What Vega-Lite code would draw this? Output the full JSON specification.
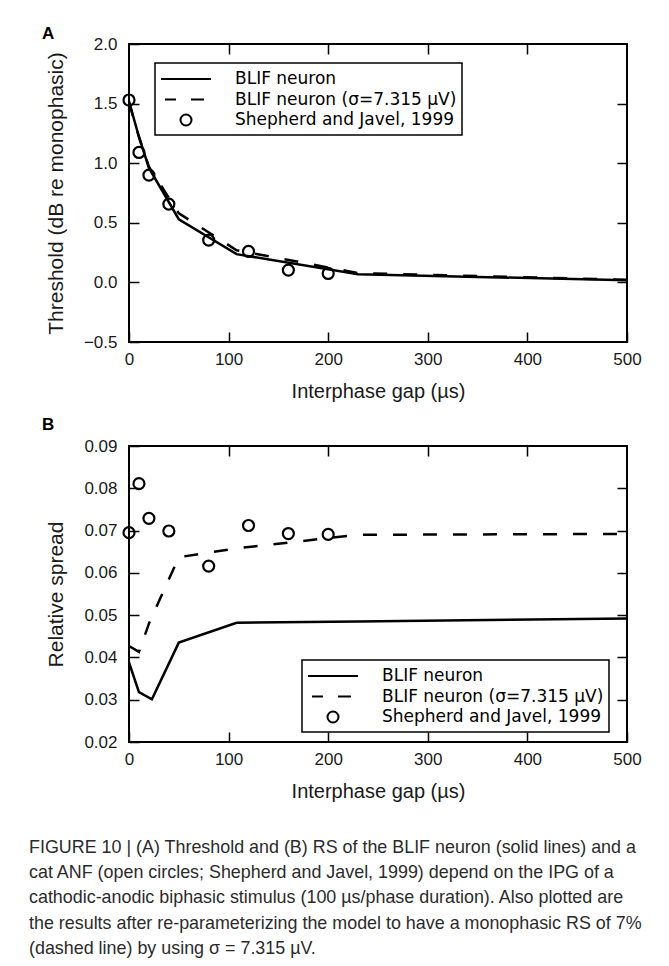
{
  "$schema": "https://vega.github.io/schema/vega-lite/v6.json",
  "padding": {"left": 29, "top": 24, "right": 5, "bottom": 5},
  "background": "white",
  "config": {
    "view": {"stroke": "black", "strokeWidth": 2},
    "axis": {
      "domain": false, "grid": false, "tickColor": "black", "tickWidth": 1.5, "tickSize": -10, "labelFlush": false,
      "labelFont": "Liberation Sans", "labelFontSize": 17, "labelColor": "#1a1a1a",
      "titleFont": "Liberation Sans", "titleFontWeight": "normal", "titleColor": "#1a1a1a", "titleFontSize": 20
    },
    "legend": {
      "orient": "none", "strokeColor": "black", "strokeWidth": 1.5, "fillColor": "white", "padding": 5,
      "cornerRadius": 0, "symbolStrokeWidth": 2, "symbolStrokeColor": "black", "symbolFillColor": "transparent",
      "labelFont": "DejaVu Sans", "labelFontSize": 17, "labelColor": "black", "labelOffset": 38, "labelLimit": 400,
      "symbolOffset": 15, "symbolSize": 400, "rowPadding": 1.5, "title": null
    }
  },
  "datasets": {
    "A": [
      {"gap": 0, "value": 1.52, "series": "BLIF neuron"},
      {"gap": 10, "value": 1.22, "series": "BLIF neuron"},
      {"gap": 20, "value": 0.96, "series": "BLIF neuron"},
      {"gap": 50, "value": 0.53, "series": "BLIF neuron"},
      {"gap": 108, "value": 0.237, "series": "BLIF neuron"},
      {"gap": 230, "value": 0.068, "series": "BLIF neuron"},
      {"gap": 500, "value": 0.018, "series": "BLIF neuron"},
      {"gap": 0, "value": 1.51, "series": "BLIF neuron (σ=7.315 µV)"},
      {"gap": 10, "value": 1.22, "series": "BLIF neuron (σ=7.315 µV)"},
      {"gap": 20, "value": 0.97, "series": "BLIF neuron (σ=7.315 µV)"},
      {"gap": 50, "value": 0.58, "series": "BLIF neuron (σ=7.315 µV)"},
      {"gap": 108, "value": 0.27, "series": "BLIF neuron (σ=7.315 µV)"},
      {"gap": 230, "value": 0.078, "series": "BLIF neuron (σ=7.315 µV)"},
      {"gap": 500, "value": 0.022, "series": "BLIF neuron (σ=7.315 µV)"},
      {"gap": 0, "value": 1.53, "series": "Shepherd and Javel, 1999"},
      {"gap": 10, "value": 1.09, "series": "Shepherd and Javel, 1999"},
      {"gap": 20, "value": 0.90, "series": "Shepherd and Javel, 1999"},
      {"gap": 40, "value": 0.657, "series": "Shepherd and Javel, 1999"},
      {"gap": 80, "value": 0.355, "series": "Shepherd and Javel, 1999"},
      {"gap": 120, "value": 0.26, "series": "Shepherd and Javel, 1999"},
      {"gap": 160, "value": 0.103, "series": "Shepherd and Javel, 1999"},
      {"gap": 200, "value": 0.075, "series": "Shepherd and Javel, 1999"}
    ],
    "B": [
      {"gap": 0, "value": 0.0388, "series": "BLIF neuron"},
      {"gap": 10, "value": 0.0318, "series": "BLIF neuron"},
      {"gap": 23, "value": 0.0301, "series": "BLIF neuron"},
      {"gap": 50, "value": 0.0435, "series": "BLIF neuron"},
      {"gap": 108, "value": 0.0482, "series": "BLIF neuron"},
      {"gap": 230, "value": 0.0485, "series": "BLIF neuron"},
      {"gap": 500, "value": 0.0492, "series": "BLIF neuron"},
      {"gap": 0, "value": 0.0427, "series": "BLIF neuron (σ=7.315 µV)"},
      {"gap": 10, "value": 0.0413, "series": "BLIF neuron (σ=7.315 µV)"},
      {"gap": 20, "value": 0.048, "series": "BLIF neuron (σ=7.315 µV)"},
      {"gap": 50, "value": 0.0637, "series": "BLIF neuron (σ=7.315 µV)"},
      {"gap": 108, "value": 0.0658, "series": "BLIF neuron (σ=7.315 µV)"},
      {"gap": 230, "value": 0.069, "series": "BLIF neuron (σ=7.315 µV)"},
      {"gap": 500, "value": 0.0692, "series": "BLIF neuron (σ=7.315 µV)"},
      {"gap": 0, "value": 0.0695, "series": "Shepherd and Javel, 1999"},
      {"gap": 10, "value": 0.0811, "series": "Shepherd and Javel, 1999"},
      {"gap": 20, "value": 0.0729, "series": "Shepherd and Javel, 1999"},
      {"gap": 40, "value": 0.0699, "series": "Shepherd and Javel, 1999"},
      {"gap": 80, "value": 0.0616, "series": "Shepherd and Javel, 1999"},
      {"gap": 120, "value": 0.0712, "series": "Shepherd and Javel, 1999"},
      {"gap": 160, "value": 0.0693, "series": "Shepherd and Javel, 1999"},
      {"gap": 200, "value": 0.0691, "series": "Shepherd and Javel, 1999"}
    ]
  },
  "title": {
    "text": [
      "FIGURE 10 | (A) Threshold and (B) RS of the BLIF neuron (solid lines) and a",
      "cat ANF (open circles; Shepherd and Javel, 1999) depend on the IPG of a",
      "cathodic-anodic biphasic stimulus (100 µs/phase duration). Also plotted are",
      "the results after re-parameterizing the model to have a monophasic RS of 7%",
      "(dashed line) by using σ = 7.315 µV."
    ],
    "orient": "bottom", "anchor": "start", "frame": "bounds", "dx": -12, "offset": 36,
    "font": "Liberation Sans", "fontSize": 17.9, "fontWeight": "normal", "color": "#2b2b2b", "lineHeight": 25.3
  },
  "spacing": 12,
  "resolve": {"scale": {"shape": "independent", "x": "independent", "y": "independent"}, "legend": {"shape": "independent"}},
  "vconcat": [
    {
      "width": 498, "height": 298,
      "title": {"text": "A", "anchor": "start", "frame": "group", "dx": -87, "offset": -8, "font": "Liberation Sans", "fontSize": 17, "fontWeight": "bold", "color": "black"},
      "data": {"name": "A"},
      "resolve": {"axis": {"x": "independent", "y": "independent"}},
      "layer": [
        {
          "transform": [{"filter": "datum.series === 'BLIF neuron'"}],
          "mark": {"type": "line", "color": "black", "strokeWidth": 2.5},
          "encoding": {
            "x": {"field": "gap", "type": "quantitative", "scale": {"domain": [0, 500], "nice": false},
                  "axis": {"orient": "bottom", "values": [0, 100, 200, 300, 400, 500], "labelPadding": 19, "title": "Interphase gap (µs)", "titleY": 49.5, "titleBaseline": "middle"}},
            "y": {"field": "value", "type": "quantitative", "scale": {"domain": [-0.5, 2.0], "nice": false, "zero": false},
                  "axis": {"orient": "left", "values": [-0.5, 0, 0.5, 1, 1.5, 2], "format": ".1f", "labelPadding": 22, "title": "Threshold (dB re monophasic)", "titleFontSize": 21, "titleX": -72.5, "titleBaseline": "middle"}}
          }
        },
        {
          "transform": [{"filter": "datum.series === 'BLIF neuron (σ=7.315 µV)'"}],
          "mark": {"type": "line", "color": "black", "strokeWidth": 2.5, "strokeDash": [14, 16]},
          "encoding": {
            "x": {"field": "gap", "type": "quantitative", "axis": {"orient": "top", "values": [100, 200, 300, 400], "labels": false, "title": null}},
            "y": {"field": "value", "type": "quantitative", "axis": {"orient": "right", "values": [0, 0.5, 1, 1.5], "labels": false, "title": null}}
          }
        },
        {
          "transform": [{"filter": "datum.series === 'Shepherd and Javel, 1999'"}],
          "mark": {"type": "point", "filled": false, "color": "black", "strokeWidth": 2.2, "size": 400, "opacity": 1},
          "encoding": {
            "x": {"field": "gap", "type": "quantitative", "axis": null},
            "y": {"field": "value", "type": "quantitative", "axis": null},
            "shape": {"field": "series", "type": "nominal",
              "scale": {"domain": ["BLIF neuron", "BLIF neuron (σ=7.315 µV)", "Shepherd and Javel, 1999"],
                        "range": ["M-2.5,0L2.5,0", "M-2.1,0L-1,0M0.5,0L1.8,0", "M-0.55,0A0.55,0.55 0 1,0 0.55,0A0.55,0.55 0 1,0 -0.55,0Z"]},
              "legend": {"legendX": 26, "legendY": 19}}
          }
        }
      ]
    },
    {
      "width": 498, "height": 296,
      "title": {"text": "B", "anchor": "start", "frame": "group", "dx": -87, "offset": 3, "font": "Liberation Sans", "fontSize": 17, "fontWeight": "bold", "color": "black"},
      "data": {"name": "B"},
      "resolve": {"axis": {"x": "independent", "y": "independent"}},
      "layer": [
        {
          "transform": [{"filter": "datum.series === 'BLIF neuron'"}],
          "mark": {"type": "line", "color": "black", "strokeWidth": 2.5},
          "encoding": {
            "x": {"field": "gap", "type": "quantitative", "scale": {"domain": [0, 500], "nice": false},
                  "axis": {"orient": "bottom", "values": [0, 100, 200, 300, 400, 500], "labelPadding": 19, "title": "Interphase gap (µs)", "titleY": 49.8, "titleBaseline": "middle"}},
            "y": {"field": "value", "type": "quantitative", "scale": {"domain": [0.02, 0.09], "nice": false, "zero": false},
                  "axis": {"orient": "left", "values": [0.02, 0.03, 0.04, 0.05, 0.06, 0.07, 0.08, 0.09], "format": ".2f", "labelPadding": 22, "title": "Relative spread", "titleFontSize": 21, "titleX": -72.5, "titleBaseline": "middle"}}
          }
        },
        {
          "transform": [{"filter": "datum.series === 'BLIF neuron (σ=7.315 µV)'"}],
          "mark": {"type": "line", "color": "black", "strokeWidth": 2.5, "strokeDash": [14, 16]},
          "encoding": {
            "x": {"field": "gap", "type": "quantitative", "axis": {"orient": "top", "values": [100, 200, 300, 400], "labels": false, "title": null}},
            "y": {"field": "value", "type": "quantitative", "axis": {"orient": "right", "values": [0.03, 0.04, 0.05, 0.06, 0.07, 0.08], "labels": false, "title": null}}
          }
        },
        {
          "transform": [{"filter": "datum.series === 'Shepherd and Javel, 1999'"}],
          "mark": {"type": "point", "filled": false, "color": "black", "strokeWidth": 2.2, "size": 400, "opacity": 1},
          "encoding": {
            "x": {"field": "gap", "type": "quantitative", "axis": null},
            "y": {"field": "value", "type": "quantitative", "axis": null},
            "shape": {"field": "series", "type": "nominal",
              "scale": {"domain": ["BLIF neuron", "BLIF neuron (σ=7.315 µV)", "Shepherd and Javel, 1999"],
                        "range": ["M-2.5,0L2.5,0", "M-2.1,0L-1,0M0.5,0L1.8,0", "M-0.55,0A0.55,0.55 0 1,0 0.55,0A0.55,0.55 0 1,0 -0.55,0Z"]},
              "legend": {"legendX": 173, "legendY": 214}}
          }
        }
      ]
    }
  ]
}
